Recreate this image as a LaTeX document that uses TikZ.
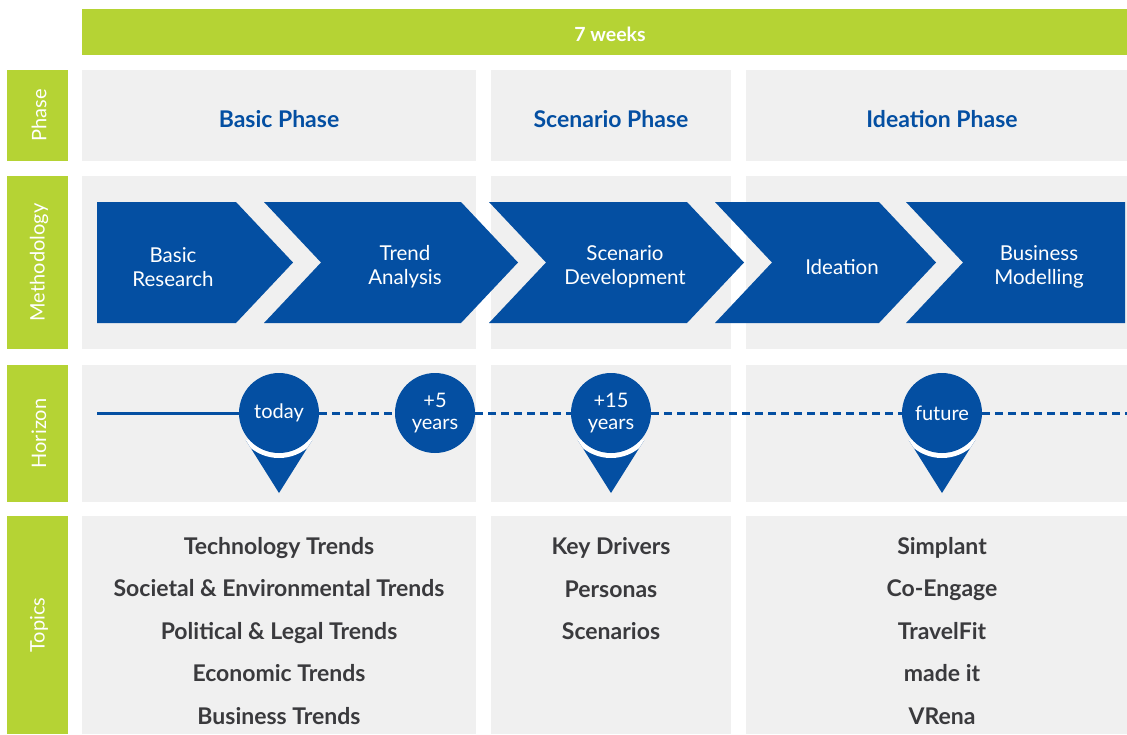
\documentclass[tikz,border=0pt]{standalone}
\usepackage{fontspec}
\setmainfont{Lato}
\definecolor{lime}{HTML}{B5D334}
\definecolor{navy}{HTML}{044FA2}
\definecolor{panel}{HTML}{F0F0F0}
\definecolor{ink}{HTML}{3A3A3D}
\tikzset{
  limebox/.style={fill=lime, draw=none},
  panelbox/.style={fill=panel, draw=none},
  sidelabel/.style={text=white, rotate=90, font=\fontsize{20}{22}\selectfont, inner sep=0pt},
  phasetitle/.style={text=navy, font=\bfseries\fontsize{23}{26}\selectfont, inner sep=0pt},
  chev/.style={fill=navy, draw=none},
  chevtext/.style={text=white, align=center, font=\fontsize{20.5}{24}\selectfont, inner sep=0pt},
  horizon/.style={circle, fill=navy, minimum size=80pt, inner sep=0pt, text=white, align=center, font=\fontsize{20}{20}\selectfont},
  hline/.style={navy, line width=3pt},
  hdash/.style={navy, line width=3pt, dash pattern=on 8pt off 5pt},
  topic/.style={text=ink, align=center, font=\bfseries\fontsize{23}{42.5}\selectfont, inner sep=0pt},
}
\newcommand{\pinmark}[1]{%
  \fill[navy] ($(#1)+(-33.3,27)$) -- ($(#1)+(33.3,27)$) -- ($(#1)+(0,80)$) -- cycle;
  \begin{scope}
    \clip ($(#1)+(-33.3,27)$) -- ($(#1)+(33.3,27)$) -- ($(#1)+(0,80)$) -- cycle;
    \fill[white] (#1) circle (45);
  \end{scope}}
\usetikzlibrary{calc}
\begin{document}
\begin{tikzpicture}[x=1pt,y=-1pt]
\useasboundingbox (0,0) rectangle (1127,734);
% top bar
\fill[limebox] (82,9) rectangle (1127,55);
\node[text=white, font=\bfseries\fontsize{19.5}{22}\selectfont, inner sep=0pt] (weeks) at (610,34) {7 weeks};
% side labels
\fill[limebox] (7,70) rectangle (68,161);
\fill[limebox] (7,176) rectangle (68,349);
\fill[limebox] (7,365) rectangle (68,502);
\fill[limebox] (7,516) rectangle (68,734);
\node[sidelabel] (lphase) at (39,115.5) {Phase};
\node[sidelabel] (lmeth) at (39,262.5) {Methodology};
\node[sidelabel] (lhor) at (39,433.5) {Horizon};
\node[sidelabel] (ltop) at (39,625) {Topics};
% panels
\foreach \ya/\yb in {70/161,176/349,365/502,516/734}{
  \fill[panelbox] (82,\ya) rectangle (476,\yb);
  \fill[panelbox] (491,\ya) rectangle (731,\yb);
  \fill[panelbox] (746,\ya) rectangle (1127,\yb);
}
% phase titles
\node[phasetitle] (pbasic) at (279,119) {Basic Phase};
\node[phasetitle] (pscen) at (611,119) {Scenario Phase};
\node[phasetitle] (pidea) at (942,119) {Ideation Phase};
% chevrons
\fill[chev] (97,202) -- (236,202) -- (293,262.5) -- (236,323) -- (97,323) -- cycle;
\fill[chev] (264,202) -- (461,202) -- (518,262.5) -- (461,323) -- (264,323) -- (321,262.5) -- cycle;
\fill[chev] (489,202) -- (687,202) -- (744,262.5) -- (687,323) -- (489,323) -- (546,262.5) -- cycle;
\fill[chev] (715,202) -- (879,202) -- (936,262.5) -- (879,323) -- (715,323) -- (772,262.5) -- cycle;
\fill[chev] (906,202) -- (1125,202) -- (1125,323) -- (906,323) -- (963,262.5) -- cycle;
\node[chevtext] (m1) at (173,267) {Basic\\Research};
\node[chevtext] (m2) at (405,267) {Trend\\Analysis};
\node[chevtext] (m3) at (625,267) {Scenario\\Development};
\node[chevtext] (m4) at (842,267) {Ideation};
\node[chevtext] (m5) at (1039,267) {Business\\Modelling};
% horizon
\coordinate (hstart) at (97,413);
\coordinate (hend) at (1127,413);
\coordinate (ctoday) at (279,413);
\coordinate (cfive) at (435,413);
\coordinate (cfifteen) at (611,413);
\coordinate (cfuture) at (942,413);
\pinmark{ctoday}
\pinmark{cfifteen}
\pinmark{cfuture}
\node[horizon] (today) at (ctoday) {today};
\node[horizon] (five) at (cfive) {+5\\[1.5pt]years};
\node[horizon] (fifteen) at (cfifteen) {+15\\[1.5pt]years};
\node[horizon] (future) at (cfuture) {future};
\draw[hline] (hstart) -- (today.west);
\draw[hdash] (today.east) -- (five.west);
\draw[hdash] (five.east) -- (fifteen.west);
\draw[hdash] (fifteen.east) -- (future.west);
\draw[hdash] (future.east) -- (hend);
% topics
\node[topic] (t1) at (279,631) {Technology Trends\\Societal \& Environmental Trends\\Political \& Legal Trends\\Economic Trends\\Business Trends};
\node[topic] (t2) at (611,589) {Key Drivers\\Personas\\Scenarios};
\node[topic] (t3) at (942,631) {Simplant\\Co-Engage\\TravelFit\\made it\\VRena};
\end{tikzpicture}
\end{document}
